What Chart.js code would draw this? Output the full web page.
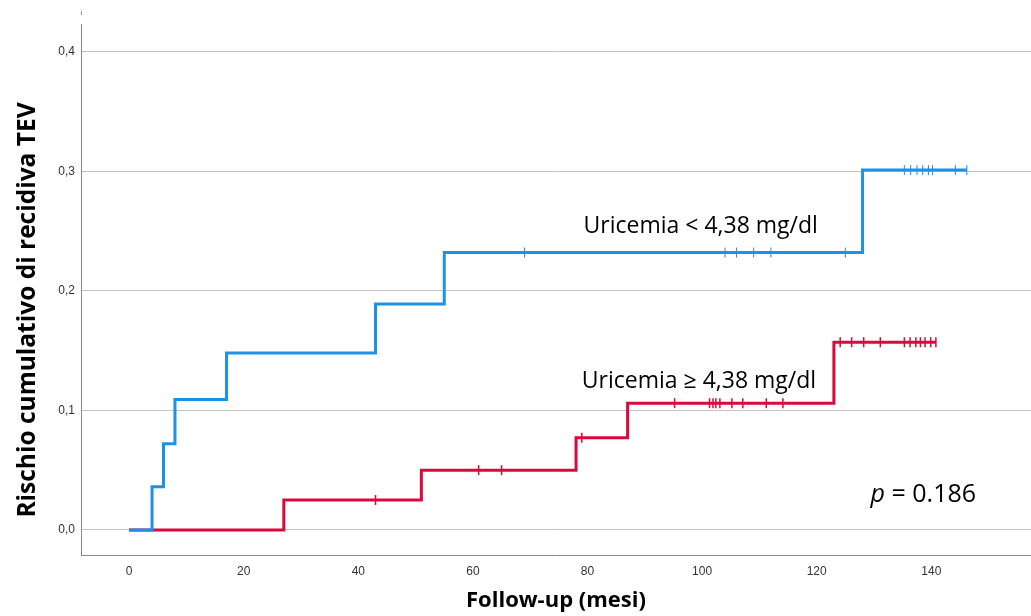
<!DOCTYPE html>
<html>
<head>
<meta charset="utf-8">
<script src="https://cdn.jsdelivr.net/npm/chart.js@4.4.1/dist/chart.umd.min.js"></script>
<style>
    body { margin: 0; background: #fff; }
</style>
</head>
<body>
<canvas id="kmChart" width="1031" height="616"></canvas>
<script>
let xTicks = [0, 20, 40, 60, 80, 100, 120, 140]
let yTicks = [0, 0.1, 0.2, 0.3, 0.4]

// Uricemia < 4,38 mg/dl
let lowTimes = [0, 4, 6, 8, 17, 43, 55, 128]
let lowRisk = [0, 0.036, 0.072, 0.109, 0.148, 0.189, 0.232, 0.301]
let lowCensored = [69, 104, 106, 109, 112, 125, 135.3, 136.4, 137.5, 138.5, 139.5, 140.2, 144.2, 146.2]

// Uricemia >= 4,38 mg/dl
let highTimes = [0, 27, 51, 78, 87, 123]
let highRisk = [0, 0.025, 0.050, 0.077, 0.106, 0.157]
let highCensored = [43, 61, 65, 79, 95.2, 101.3, 101.9, 102.4, 103.1, 105.2, 107.1, 111.2, 114.1,
    124.1, 126.1, 128.2, 131.1, 135.3, 136.3, 137.3, 138.1, 138.9, 139.9, 140.8]

let lowLabel = "Uricemia < 4,38 mg/dl"
let highLabel = "Uricemia \u2265 4,38 mg/dl"
let pValue = "0.186"

let blue = "rgb(30,144,230)"
let red = "rgb(216,10,60)"

function levelAt(times, risk, t) {
    let level = risk[0]
    times.forEach(function (time, i) {
        if (time <= t) level = risk[i]
    })
    return level
}

function stepPoints(times, risk, censored) {
    let pts = times.map((t, i) => ({x: t, y: risk[i]}))
    let last = Math.max(...censored)
    pts.push({x: last, y: levelAt(times, risk, last)})
    return pts
}

function censorPoints(times, risk, censored) {
    return censored.map(t => ({x: t, y: levelAt(times, risk, t)}))
}

let textPlugin = {
    id: 'kmText',
    afterDraw(chart) {
        let ctx = chart.ctx
        let xs = chart.scales.x
        let ys = chart.scales.y
        ctx.save()
        ctx.fillStyle = "#000"
        ctx.textBaseline = "alphabetic"
        ctx.textAlign = "left"
        ctx.font = "23px 'Open Sans'"
        ctx.fillText(lowLabel, xs.getPixelForValue(79.3), ys.getPixelForValue(0.248))
        ctx.fillText(highLabel, xs.getPixelForValue(79.0), ys.getPixelForValue(0.119))

        let px = xs.getPixelForValue(129.4)
        let py = ys.getPixelForValue(0.0234)
        ctx.font = "italic 25px 'Open Sans'"
        ctx.fillText("p", px, py)
        let w = ctx.measureText("p").width
        ctx.font = "25px 'Open Sans'"
        ctx.fillText(" = " + pValue, px + w, py)

        // axis titles
        ctx.textAlign = "center"
        ctx.textBaseline = "middle"
        ctx.font = "bold 22px 'Open Sans'"
        ctx.fillText("Follow-up (mesi)", (chart.chartArea.left + chart.chartArea.right) / 2, 601)
        ctx.font = "bold 24.5px 'Open Sans'"
        ctx.translate(28, 310)
        ctx.rotate(-Math.PI / 2)
        ctx.fillText("Rischio cumulativo di recidiva TEV", 0, 0)
        ctx.restore()

        ctx.save()
        ctx.strokeStyle = "#999"
        ctx.beginPath()
        ctx.moveTo(81.5, 11)
        ctx.lineTo(81.5, 15)
        ctx.stroke()
        ctx.restore()
    }
}

new Chart("kmChart", {
    type: "line",
    data: {
        datasets: [{
            data: stepPoints(lowTimes, lowRisk, lowCensored),
            borderColor: blue,
            borderWidth: 3,
            stepped: true,
            pointRadius: 0,
            fill: false
        }, {
            data: censorPoints(lowTimes, lowRisk, lowCensored),
            showLine: false,
            pointStyle: "line",
            rotation: 90,
            pointRadius: 5,
            borderColor: blue,
            borderWidth: 1
        }, {
            data: stepPoints(highTimes, highRisk, highCensored),
            borderColor: red,
            borderWidth: 3,
            stepped: true,
            pointRadius: 0,
            fill: false
        }, {
            data: censorPoints(highTimes, highRisk, highCensored),
            showLine: false,
            pointStyle: "line",
            rotation: 90,
            pointRadius: 5,
            borderColor: red,
            borderWidth: 1.5
        }]
    },
    options: {
        responsive: false,
        devicePixelRatio: 1,
        animation: false,
        layout: {autoPadding: false, padding: {top: 24, left: 0, right: 0, bottom: 0}},
        plugins: {
            legend: {display: false},
            tooltip: {enabled: false}
        },
        scales: {
            x: {
                type: "linear",
                min: -8.4,
                max: 157.4,
                afterBuildTicks: function (scale) {
                    scale.ticks = xTicks.map(v => ({value: v}))
                },
                afterFit: function (scale) {
                    scale.height = 61
                    scale.paddingLeft = 0
                    scale.paddingRight = 0
                },
                grid: {display: false, drawTicks: false},
                border: {display: true, color: "#888", width: 1},
                ticks: {
                    color: "#333",
                    padding: 9,
                    maxRotation: 0,
                    font: {family: "'Liberation Sans'", size: 12}
                }
            },
            y: {
                type: "linear",
                min: -0.021,
                max: 0.4232,
                afterBuildTicks: function (scale) {
                    scale.ticks = yTicks.map(v => ({value: v}))
                },
                afterFit: function (scale) {
                    scale.width = 81
                    scale.paddingTop = 0
                    scale.paddingBottom = 0
                },
                grid: {color: "#c4c4c4", drawTicks: false},
                border: {display: true, color: "#888", width: 1},
                ticks: {
                    color: "#333",
                    padding: 6,
                    font: {family: "'Liberation Sans'", size: 12},
                    callback: v => v.toFixed(1).replace(".", ",")
                }
            }
        }
    },
    plugins: [textPlugin]
});
</script>
</body>
</html>
